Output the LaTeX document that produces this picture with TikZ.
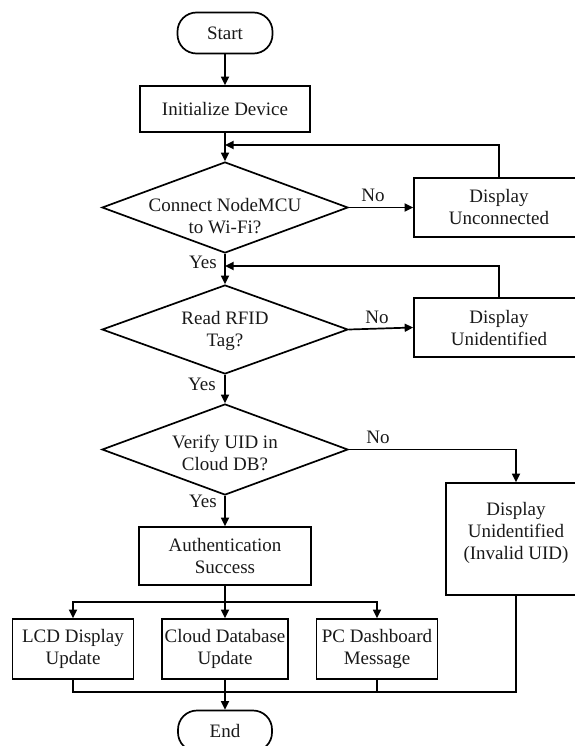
\documentclass[tikz,border=0pt]{standalone}
\usepackage{fontspec}
\setmainfont{Liberation Serif}
\usetikzlibrary{arrows.meta,shapes.geometric}
\tikzset{
  base/.style={draw=black, line width=1.7pt, font=\fontsize{19}{22}\selectfont, align=center, inner sep=1pt, text=black!90},
  term/.style={base, rectangle, rounded corners=19pt, minimum width=95pt, minimum height=41pt},
  proc/.style={base, rectangle},
  dec/.style={draw=black, line width=1.7pt, diamond, inner sep=0pt, minimum width=246pt, minimum height=91pt},
  dtext/.style={font=\fontsize{19}{22}\selectfont, align=center, text=black!90},
  lbl/.style={font=\fontsize{19}{22}\selectfont, text=black!90, inner sep=0pt},
  conn/.style={line width=1.7pt},
  arr/.style={conn, -{Triangle[length=8.5pt,width=8pt]}}
}
\begin{document}
\begin{tikzpicture}[x=1pt,y=-1pt]
\useasboundingbox (0,0) rectangle (574,746);
% main column
\node[term] (start) at (225,33) {Start};
\node[proc, minimum width=170pt, minimum height=46pt] (init) at (225,109) {Initialize Device};
\node[dec, label={[dtext, yshift=-9pt]center:Connect NodeMCU\\to Wi-Fi?}] (d1) at (225,207.5) {};
\node[dec, minimum height=89pt, label={[dtext, yshift=-1.5pt]center:Read RFID\\Tag?}] (d2) at (225,329.5) {};
\node[dec, label={[dtext, yshift=-3pt]center:Verify UID in\\Cloud DB?}] (d3) at (225,449.5) {};
\node[proc, minimum width=172pt, minimum height=58pt] (auth) at (225,556) {Authentication\\Success};
% right column
\node[proc, minimum width=170pt, minimum height=59pt] (du) at (499,207.5) {Display\\Unconnected};
\node[proc, minimum width=170pt, minimum height=59pt] (dui) at (499,327.5) {Display\\Unidentified};
\node[proc, minimum width=140pt, minimum height=112pt, label={[dtext, yshift=6pt]center:Display\\Unidentified\\(Invalid UID)}] (inv) at (516,539) {};
% outputs
\node[proc, minimum width=121pt, minimum height=60pt] (lcd) at (73,649) {LCD Display\\Update};
\node[proc, minimum width=126pt, minimum height=60pt] (cloud) at (225,649) {Cloud Database\\Update};
\node[proc, minimum width=121pt, minimum height=60pt] (pc) at (377,649) {PC Dashboard\\Message};
\node[term, minimum width=94pt] (end) at (225,731) {End};
% helper coordinates
\coordinate (j1) at (225,145);
\coordinate (j2) at (225,266);
\coordinate (b0) at (225,602);
\coordinate (m) at (225,692);
% connectors
\draw[arr] (start) -- (init);
\draw[arr] (init.south) -- (d1.north);
\draw[arr] (d1.east) -- (du.west);
\draw[arr] (du.north) |- (j1);
\draw[arr] (d1.south) -- (d2.north);
\draw[arr] (dui.north) |- (j2);
\draw[arr] (d2.east) -- (dui.west);
\draw[arr] (d2.south) -- (d3.north);
\draw[arr] (d3.east) -| (inv.north);
\draw[arr] (d3.south) -- (auth.north);
\draw[arr] (auth.south) -- (cloud.north);
\draw[arr] (b0) -| (lcd.north);
\draw[arr] (b0) -| (pc.north);
\draw[conn] (lcd.south) |- (m);
\draw[conn] (inv.south) |- (m);
\draw[conn] (pc.south) -- (pc.south |- m);
\draw[arr] (cloud.south) -- (end.north);
% branch labels
\node[lbl] (no1) at (373,195) {No};
\node[lbl] (yes1) at (203,262) {Yes};
\node[lbl] (no2) at (377,317) {No};
\node[lbl] (yes2) at (202,384) {Yes};
\node[lbl] (no3) at (378,437) {No};
\node[lbl] (yes3) at (203,501) {Yes};
\end{tikzpicture}
\end{document}
